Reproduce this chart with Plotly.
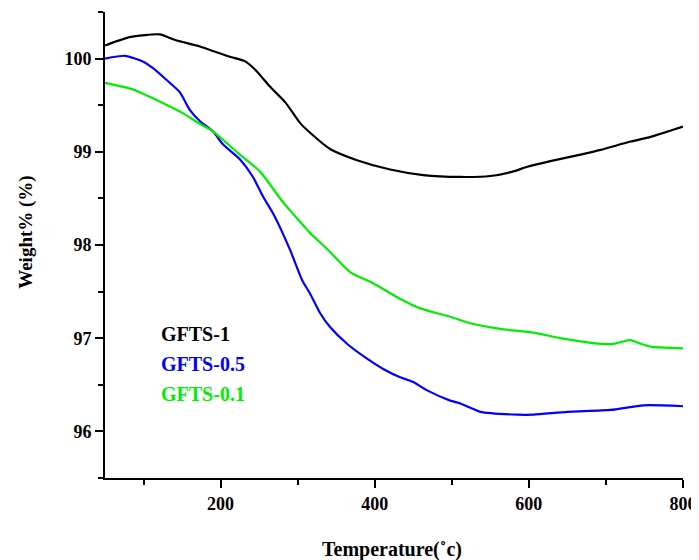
import plotly.graph_objects as go

# ---- data ----
t_gfts1 = [50, 82, 121, 141, 173, 212, 232, 245, 264, 284, 303, 314, 342, 377, 420, 463,
           511, 550, 580, 598, 628, 667, 693, 732, 758, 800]
w_gfts1 = [100.14, 100.23, 100.26, 100.20, 100.13, 100.02, 99.97, 99.88, 99.70, 99.53, 99.31,
           99.22, 99.03, 98.91, 98.81, 98.75, 98.73, 98.74, 98.79, 98.84, 98.90, 98.97, 99.02,
           99.11, 99.16, 99.27]

t_gfts05 = [50, 76, 99, 112, 130, 147, 160, 173, 190, 203, 225, 242, 255, 268, 290, 306, 316,
            329, 342, 364, 390, 411, 433, 450, 468, 498, 511, 528, 537, 585, 606, 650, 706,
            749, 800]
w_gfts05 = [100.00, 100.03, 99.97, 99.90, 99.77, 99.64, 99.45, 99.33, 99.22, 99.08, 98.92,
            98.73, 98.52, 98.34, 97.95, 97.62, 97.48, 97.27, 97.12, 96.94, 96.78, 96.67, 96.58,
            96.53, 96.44, 96.33, 96.30, 96.24, 96.21, 96.18, 96.18, 96.21, 96.23, 96.28, 96.27]

t_gfts01 = [50, 86, 108, 138, 152, 173, 190, 225, 251, 279, 286, 303, 316, 338, 368, 398, 429,
            459, 498, 524, 563, 606, 641, 693, 710, 720, 732, 745, 758, 800]
w_gfts01 = [99.74, 99.67, 99.59, 99.47, 99.41, 99.30, 99.22, 98.97, 98.79, 98.48, 98.41, 98.25,
            98.13, 97.96, 97.71, 97.59, 97.44, 97.32, 97.23, 97.16, 97.10, 97.06, 97.00, 96.94,
            96.94, 96.96, 96.98, 96.94, 96.91, 96.89]

series = [
    ("GFTS-1", t_gfts1, w_gfts1, "#000000"),
    ("GFTS-0.5", t_gfts05, w_gfts05, "#0000ff"),
    ("GFTS-0.1", t_gfts01, w_gfts01, "#00ee00"),
]

x_range = [50, 800]
y_range = [95.5, 100.5]
x_title = "Temperature(˚c)"
y_title = "Weight% (%)"

FONT = "Liberation Serif, Times New Roman, serif"

fig = go.Figure()
for name, t, w, c in series:
    fig.add_trace(go.Scatter(x=t, y=w, mode="lines", name=name,
                             line=dict(color=c, width=2.2, shape="spline", smoothing=0.6),
                             showlegend=False))

# legend as coloured text
leg_y = [0.308, 0.2446, 0.181]
for (name, _, _, c), yy in zip(series, leg_y):
    fig.add_annotation(text=name, xref="paper", yref="paper", x=0.0934, y=yy,
                       xanchor="left", yanchor="middle", showarrow=False,
                       font=dict(family=FONT, size=20, color=c, weight="bold"))

fig.add_annotation(text=x_title, xref="paper", yref="paper", x=0.4965, y=-0.1545,
                   xanchor="center", yanchor="middle", showarrow=False,
                   font=dict(family=FONT, size=20, color="black", weight="bold"))
fig.add_annotation(text=y_title, xref="paper", yref="paper", x=-0.137, y=0.528,
                   xanchor="center", yanchor="middle", showarrow=False, textangle=-90,
                   font=dict(family=FONT, size=19, color="black", weight="bold"))

axis_common = dict(showline=True, linecolor="black", linewidth=2, mirror=False,
                   showgrid=False, zeroline=False, ticks="outside", ticklen=8,
                   tickwidth=2, tickcolor="black", automargin=False,
                   tickfont=dict(family=FONT, size=18, color="black", weight="bold"))

fig.update_xaxes(range=x_range, tick0=0, dtick=200,
                 minor=dict(ticks="outside", ticklen=5, tickwidth=2, tickcolor="black",
                            tick0=0, dtick=100, showgrid=False),
                 **axis_common)
fig.update_yaxes(range=y_range, tick0=0, dtick=1,
                 minor=dict(ticks="outside", ticklen=5, tickwidth=2, tickcolor="black",
                            tick0=0, dtick=0.5, showgrid=False),
                 **axis_common)

# page body has an 8px margin; size the figure so it fills the 699x560 window exactly
fig.update_layout(width=691, height=552,
                  margin=dict(l=97, r=16, t=4, b=82, autoexpand=False),
                  plot_bgcolor="white", paper_bgcolor="white", showlegend=False)

fig.write_html("out.html")
